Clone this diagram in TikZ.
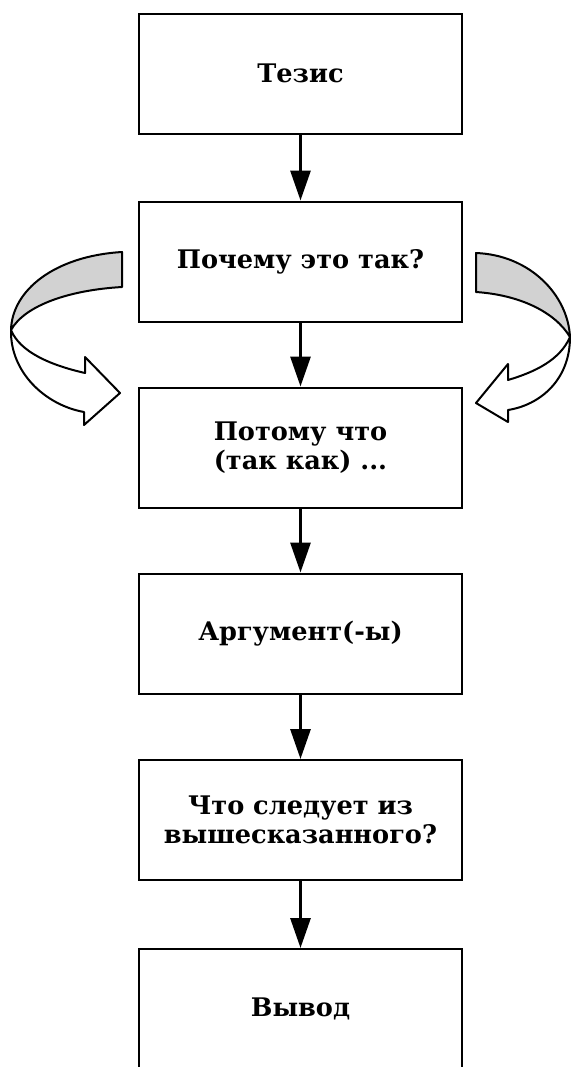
\documentclass[tikz,border=0pt]{standalone}
\usepackage{fontspec}
\setmainfont{DejaVu Serif}
\usetikzlibrary{arrows.meta}
\tikzset{
  stepbox/.style={draw, line width=1pt, minimum width=161.5pt, minimum height=60pt,
    align=center, font=\fontsize{12.8}{14.5}\selectfont\bfseries},
  flow/.style={-{Triangle[width=10pt,length=15pt]}, line width=1.5pt},
  ribbon/.style={draw, line width=1pt, line join=round},
}
\begin{document}
\begin{tikzpicture}[x=0.5pt,y=-0.5pt]
        \useasboundingbox (0,0) rectangle (571,1067);

        % Drawing the boxes
        \node[stepbox] (tezis) at (300.5,73.5) {Тезис};
        \node[stepbox] (pochemu) at (300.5,261.5) {Почему это так?};
        \node[stepbox] (potomu) at (300.5,447.5) {Потому что\\(так как) ...};
        \node[stepbox] (argument) at (300.5,633.5) {Аргумент(-ы)};
        \node[stepbox] (sleduet) at (300.5,820) {Что следует из\\вышесказанного?};
        \node[stepbox] (vyvod) at (300.5,1009) {Вывод};

        % Arrows between the boxes
        \draw[flow] (tezis) -- (pochemu);
        \draw[flow] (pochemu) -- (potomu);
        \draw[flow] (potomu) -- (argument);
        \draw[flow] (argument) -- (sleduet);
        \draw[flow] (sleduet) -- (vyvod);

        % Left turning arrow
        \draw[ribbon, fill=gray!35] (122,252) .. controls (55,256) and (12,290) .. (11,330)
            .. controls (25,305) and (70,290) .. (122,287) -- cycle;
        \draw[ribbon, fill=white] (11,330) .. controls (10,372) and (45,405) .. (84,412)
            -- (84,425) -- (120,393) -- (85,357) -- (85,373)
            .. controls (50,365) and (20,352) .. (11,330) -- cycle;

        % Right turning arrow
        \draw[ribbon, fill=gray!35] (476,253) .. controls (530,255) and (568,295) .. (570,337)
            .. controls (555,312) and (520,295) .. (476,292) -- cycle;
        \draw[ribbon, fill=white] (570,337) .. controls (570,380) and (540,405) .. (508,410)
            -- (508,422) -- (476,403) -- (508,364) -- (508,380)
            .. controls (535,372) and (560,360) .. (570,337) -- cycle;
    \end{tikzpicture}
\end{document}
